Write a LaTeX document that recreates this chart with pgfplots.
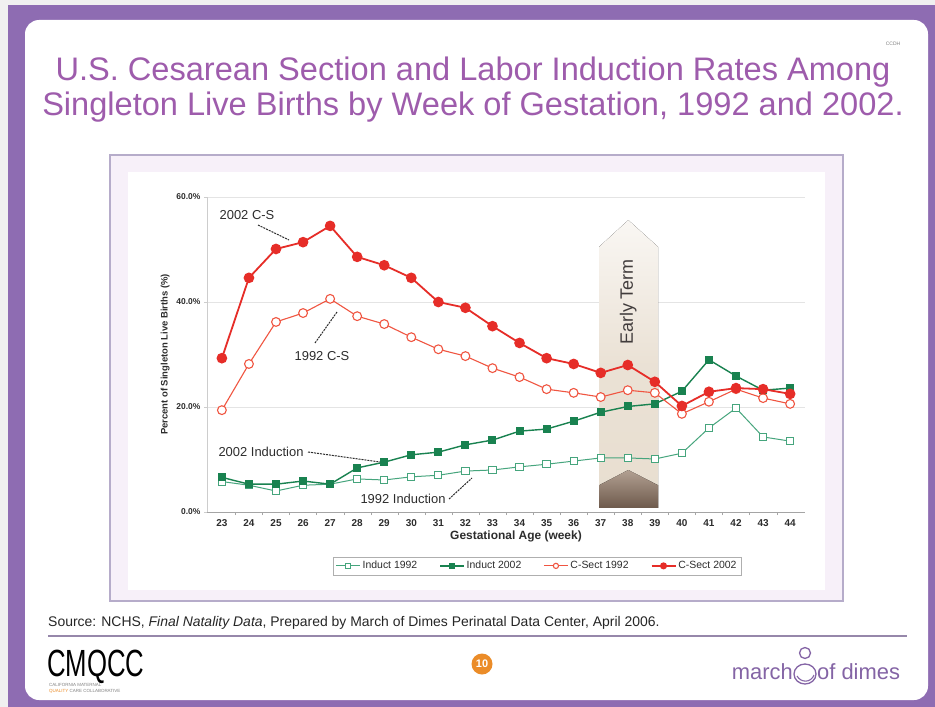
\documentclass[border=0pt]{standalone}
\usepackage{fontspec}
\setmainfont{Liberation Sans}
\usepackage{pgfplots}
\pgfplotsset{compat=1.18}
\usetikzlibrary{shadings}

\definecolor{frame}{RGB}{142,108,178}
\definecolor{titlepurple}{RGB}{158,92,172}
\definecolor{panelline}{RGB}{182,172,202}
\definecolor{panelfill}{RGB}{247,240,249}
\definecolor{indA}{RGB}{70,165,125}
\definecolor{indB}{RGB}{25,130,80}
\definecolor{csA}{RGB}{240,85,65}
\definecolor{csB}{RGB}{230,45,40}
\definecolor{txt}{RGB}{45,45,45}
\definecolor{mod}{RGB}{132,100,165}
\definecolor{beige}{RGB}{232,222,208}
\definecolor{brownA}{RGB}{178,160,146}
\definecolor{brownB}{RGB}{110,90,76}
\definecolor{cmqorange}{RGB}{235,140,40}

% values, percent of singleton live births
\pgfplotstableread{
week ind92 ind02 cs92 cs02
23 5.8 6.6 19.4 29.3
24 5.1 5.3 28.2 44.6
25 4.0 5.3 36.2 50.1
26 5.1 5.9 37.9 51.4
27 5.3 5.3 40.6 54.5
28 6.3 8.4 37.3 48.6
29 6.1 9.5 35.8 47.0
30 6.7 10.9 33.3 44.6
31 7.0 11.4 31.0 40.0
32 7.8 12.8 29.7 38.9
33 8.0 13.7 27.4 35.4
34 8.6 15.4 25.7 32.2
35 9.1 15.8 23.4 29.3
36 9.7 17.3 22.7 28.2
37 10.3 19.0 21.9 26.5
38 10.3 20.1 23.2 28.0
39 10.1 20.6 22.7 24.8
40 11.2 23.0 18.7 20.2
41 16.0 29.0 21.0 22.9
42 19.8 25.9 23.4 23.6
43 14.3 23.2 21.7 23.4
44 13.5 23.6 20.6 22.5
}\gestdata

\begin{document}
\begin{tikzpicture}
% ---- slide background (pixel units, y downwards)
\begin{scope}[x=1bp,y=-1bp]
\useasboundingbox (0,0) rectangle (935,707);
\fill[white!94!black] (0,0) rectangle (935,707);
\fill[frame] (8,5) rectangle (935,707);
\fill[white, rounded corners=14bp] (25,20) rectangle (928,700);
\node[text=gray, font=\fontsize{5}{6}\selectfont] at (893,44) {CCDH};
\node[text=titlepurple, font=\fontsize{32.7}{36}\selectfont] at (473,72)
  {U.S. Cesarean Section and Labor Induction Rates Among};
\node[text=titlepurple, font=\fontsize{32.7}{36}\selectfont] at (473,107)
  {Singleton Live Births by Week of Gestation, 1992 and 2002.};
\filldraw[fill=panelfill, draw=panelline, line width=1.3bp] (110,155) rectangle (843,601);
\fill[white] (128,172) rectangle (825,590);
\end{scope}

\begin{axis}[
  at={(207bp,-512bp)}, anchor=south west,
  scale only axis, width=598bp, height=315bp,
  xmin=22.45, xmax=44.55, ymin=0, ymax=60,
  axis x line*=bottom, axis y line*=left,
  x axis line style={draw={rgb,255:red,165;green,165;blue,165}, line width=1bp},
  y axis line style={draw={rgb,255:red,205;green,205;blue,205}, line width=1bp},
  xtick={23,...,44},
  xticklabels={23,24,25,26,27,28,29,30,31,32,33,34,35,36,37,38,39,40,41,42,43,44},
  minor xtick={23.5,24.5,...,43.5},
  major x tick style={draw=none},
  minor x tick style={draw={rgb,255:red,165;green,165;blue,165}},
  ytick={0,20,40,60},
  yticklabels={0.0\%,20.0\%,40.0\%,60.0\%},
  ytick style={draw={rgb,255:red,205;green,205;blue,205}},
  tick align=outside, major tick length=3bp, minor tick length=3bp,
  ymajorgrids, grid style={draw={rgb,255:red,228;green,228;blue,228}, line width=0.8bp},
  xticklabel style={font=\fontsize{10}{11}\selectfont\bfseries, text=txt, yshift=-1bp},
  yticklabel style={font=\fontsize{8.5}{10}\selectfont\bfseries, text=txt},
  xlabel={Gestational Age (week)},
  xlabel style={font=\fontsize{12}{13}\selectfont\bfseries, text=txt, yshift=3bp, xshift=10bp},
  ylabel={Percent of Singleton Live Births (\%)},
  ylabel style={font=\fontsize{9.5}{11}\selectfont\bfseries, text=txt},
  legend columns=4,
  legend style={at={(0.552,-0.171)}, anchor=center, draw={rgb,255:red,175;green,175;blue,175},
    font=\fontsize{10.5}{12}\selectfont, text=txt, inner sep=2.5bp,
    /tikz/every even column/.append style={column sep=20bp}},
  legend image code/.code={\draw[#1, mark size=2.6bp, mark repeat=2, mark phase=2]
    plot coordinates {(0bp,0bp) (12bp,0bp) (24bp,0bp)};},
  clip=false,
]
% Early Term arrow
\fill[top color=beige!25!white, bottom color=beige, middle color=beige!90!white]
  (axis cs:36.94,0.8) -- (axis cs:36.94,50.5) -- (axis cs:38.02,55.6)
  -- (axis cs:39.12,50.5) -- (axis cs:39.12,0.8) -- cycle;
\fill[top color=brownA, bottom color=brownB]
  (axis cs:36.94,0.8) -- (axis cs:36.94,5.1) -- (axis cs:38.02,8.0)
  -- (axis cs:39.12,5.1) -- (axis cs:39.12,0.8) -- cycle;
\node[rotate=90, font=\fontsize{18}{20}\selectfont, text={rgb,255:red,65;green,60;blue,60}]
  at (axis cs:38.02,40.0) {Early Term};

\addplot[indA, line width=1bp, mark=square*, mark size=3.6bp, mark options={fill=white, line width=1bp}]
  table[x=week, y=ind92] {\gestdata};
\addlegendentry{Induct 1992}
\addplot[indB, line width=1.4bp, mark=square*, mark size=3.3bp, mark options={fill=indB}]
  table[x=week, y=ind02] {\gestdata};
\addlegendentry{Induct 2002}
\addplot[csA, line width=1.1bp, mark=*, mark size=4.4bp, mark options={fill=white, line width=1.1bp}]
  table[x=week, y=cs92] {\gestdata};
\addlegendentry{C-Sect 1992}
\addplot[csB, line width=1.8bp, mark=*, mark size=4.4bp, mark options={fill=csB}]
  table[x=week, y=cs02] {\gestdata};
\addlegendentry{C-Sect 2002}
\end{axis}

% ---- annotations and footer (pixel units again)
\begin{scope}[x=1bp,y=-1bp]
\tikzset{ann/.style={text=txt, font=\fontsize{13}{14}\selectfont},
  annl/.style={draw=txt, line width=1bp, dash pattern=on 2bp off 1bp}}
\node[ann] at (247,215) {2002 C-S};
\draw[annl] (258,225) -- (289,240);
\node[ann] at (322,356) {1992 C-S};
\draw[annl] (315,343) -- (337,312);
\node[ann] at (261,452) {2002 Induction};
\draw[annl] (308,452) -- (380,462);
\node[ann] at (403,499) {1992 Induction};
\draw[annl] (449,499) -- (472,478);

\node[anchor=west, inner sep=0, font=\fontsize{14}{15}\selectfont, text=black!85] at (48,623)
  {Source: NCHS, \textit{Final Natality Data}, Prepared by March of Dimes Perinatal Data Center, April 2006.};
\draw[draw={rgb,255:red,150;green,135;blue,170}, line width=1.5bp] (48,636) -- (907,636);

% CMQCC logo
\node[inner sep=0, anchor=base west, text depth=0pt] at (47,676)
  {\scalebox{0.68}[1]{\fontsize{38}{38}\selectfont CMQCC}};
\node[inner sep=0, anchor=west, text=gray, font=\fontsize{4.5}{5}\selectfont] at (49,685)
  {CALIFORNIA MATERNAL};
\node[inner sep=0, anchor=west, font=\fontsize{4.5}{5}\selectfont] at (49,691)
  {\textcolor{cmqorange}{QUALITY} \textcolor{gray}{CARE COLLABORATIVE}};

% page number
\fill[cmqorange] (482,664) circle (10.5);
\node[text=white, font=\fontsize{11}{12}\selectfont\bfseries] at (482,664) {10};

% march of dimes logo
\node[anchor=east, inner sep=0, text=mod, font=\fontsize{22}{24}\selectfont] at (793,672) {march};
\node[anchor=west, inner sep=0, text=mod, font=\fontsize{22}{24}\selectfont] at (817,672) {of dimes};
\draw[mod, line width=1.3bp] (805,653) circle (5.5);
\draw[mod, line width=1.3bp] (805,674) ellipse (11 and 10);
\draw[mod, line width=1.1bp] (797,676) .. controls (801,683) and (811,683) .. (814,675);
\end{scope}
\end{tikzpicture}
\end{document}
